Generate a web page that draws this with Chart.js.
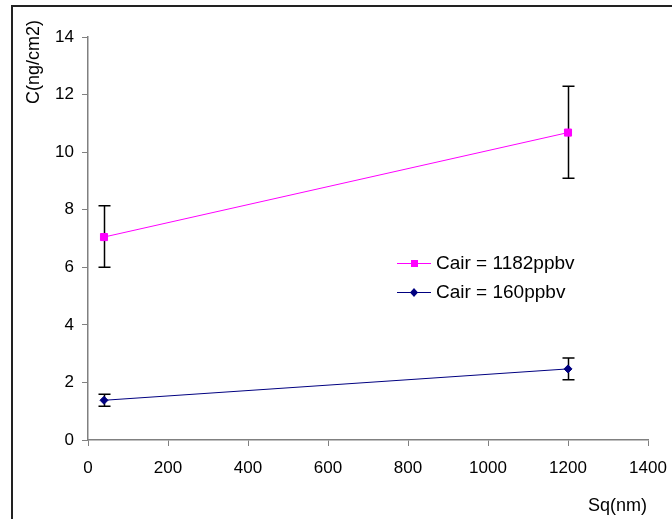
<!DOCTYPE html>
<html>
<head>
<meta charset="utf-8">
<script src="https://cdn.jsdelivr.net/npm/chart.js@4.4.1/dist/chart.umd.min.js"></script>
<style>
  body { margin: 0; background: #fff; }
  canvas { display: block; }
</style>
</head>
<body>
<canvas id="myChart" width="672" height="519"></canvas>
<script>
// values
const sq = [40, 1200];
const highValues = [7.05, 10.68];
const highErrUp = [8.14, 12.29];
const highErrDown = [6.0, 9.09];
const lowValues = [1.38, 2.47];
const lowErrUp = [1.59, 2.85];
const lowErrDown = [1.17, 2.09];
const seriesNames = ['Cair = 1182ppbv', 'Cair = 160ppbv'];
const xTitle = 'Sq(nm)';
const yTitle = 'C(ng/cm2)';

const pink = '#ff00ff';
const navy = '#000080';
const font = 'Liberation Sans, Arial, sans-serif';

function points(xs, ys) {
    return xs.map((x, i) => ({ x: x, y: ys[i] }));
}

// vertical error bars with caps, drawn through the chart scales
const errorBars = {
    id: 'errorBars',
    beforeDatasetsDraw(chart) {
        const ctx = chart.ctx;
        const xs = chart.scales.x, ys = chart.scales.y;
        const sets = [[highErrUp, highErrDown], [lowErrUp, lowErrDown]];
        ctx.save();
        ctx.strokeStyle = '#000';
        ctx.lineWidth = 1.5;
        sets.forEach(([up, down]) => {
            sq.forEach((x, i) => {
                const px = Math.round(xs.getPixelForValue(x)) + 0.5;
                const top = ys.getPixelForValue(up[i]);
                const bot = ys.getPixelForValue(down[i]);
                ctx.beginPath();
                ctx.moveTo(px, top); ctx.lineTo(px, bot);
                ctx.moveTo(px - 6, top); ctx.lineTo(px + 6, top);
                ctx.moveTo(px - 6, bot); ctx.lineTo(px + 6, bot);
                ctx.stroke();
            });
        });
        ctx.restore();
    }
};

// legend, axis titles and outer frame the way the old spreadsheet drew them
const decorations = {
    id: 'decorations',
    afterDraw(chart) {
        const ctx = chart.ctx;
        ctx.save();
        // legend
        const rows = [[pink, 'rect', 263], [navy, 'rectRot', 292]];
        rows.forEach(([color, shape, y], i) => {
            ctx.strokeStyle = color;
            ctx.lineWidth = 1;
            ctx.beginPath();
            ctx.moveTo(397, y + 0.5); ctx.lineTo(431, y + 0.5);
            ctx.stroke();
            ctx.fillStyle = color;
            if (shape === 'rect') {
                ctx.fillRect(411, y - 3, 7, 7);
            } else {
                ctx.beginPath();
                ctx.moveTo(414, y - 4); ctx.lineTo(418, y + 0.5);
                ctx.lineTo(414, y + 5); ctx.lineTo(410, y + 0.5);
                ctx.closePath(); ctx.fill();
            }
            ctx.fillStyle = '#000';
            ctx.font = '19px ' + font;
            ctx.textBaseline = 'middle';
            ctx.textAlign = 'left';
            ctx.fillText(seriesNames[i], 436, y + 1);
        });
        // axis titles
        ctx.fillStyle = '#000';
        ctx.font = '18px ' + font;
        ctx.textAlign = 'right';
        ctx.textBaseline = 'middle';
        ctx.fillText(xTitle, 647, 506);
        ctx.translate(34, 20);
        ctx.rotate(-Math.PI / 2);
        ctx.fillText(yTitle, 0, 0);
        ctx.restore();
        // frame
        ctx.save();
        ctx.strokeStyle = '#222';
        ctx.lineWidth = 2;
        ctx.strokeRect(12, 6, 700, 560);
        ctx.restore();
    }
};

var ctx = document.getElementById('myChart').getContext('2d');
var myChart = new Chart(ctx, {
    type: 'line',
    data: {
        datasets: [
            {
                label: seriesNames[0],
                data: points(sq, highValues),
                borderColor: pink,
                backgroundColor: pink,
                borderWidth: 1,
                pointStyle: 'rect',
                pointRadius: 5,
                tension: 0
            },
            {
                label: seriesNames[1],
                data: points(sq, lowValues),
                borderColor: navy,
                backgroundColor: navy,
                borderWidth: 1,
                pointStyle: 'rectRot',
                pointRadius: 4,
                tension: 0
            }
        ]
    },
    options: {
        responsive: false,
        animation: false,
        layout: { padding: { top: 37, right: 24, left: 0, bottom: 0 } },
        plugins: {
            legend: { display: false },
            tooltip: { enabled: false }
        },
        scales: {
            x: {
                type: 'linear',
                min: 0,
                max: 1400,
                afterFit: s => { s.height = 79; s.paddingRight = 0; s.paddingLeft = 0; },
                ticks: {
                    stepSize: 200, color: '#000', padding: 12, maxRotation: 0,
                    font: { family: font, size: 17 },
                    callback: v => String(v)
                },
                grid: { drawOnChartArea: false, tickLength: 6, tickColor: '#808080' },
                border: { color: '#808080', width: 1.5 }
            },
            y: {
                min: 0,
                max: 14,
                afterFit: s => { s.width = 88; s.paddingTop = 0; s.paddingBottom = 0; },
                ticks: { stepSize: 2, color: '#000', padding: 8, font: { family: font, size: 17 } },
                grid: { drawOnChartArea: false, tickLength: 6, tickColor: '#808080' },
                border: { color: '#808080', width: 1.5 }
            }
        }
    },
    plugins: [errorBars, decorations]
});
</script>
</body>
</html>
